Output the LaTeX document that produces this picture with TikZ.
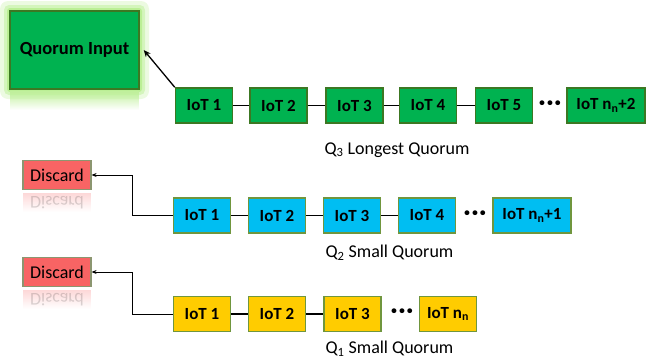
\documentclass[tikz,border=0pt]{standalone}
\usepackage{fontspec}
\setmainfont{Carlito}
\usetikzlibrary{arrows.meta,fadings}

\definecolor{iotgreen}{RGB}{0,178,80}
\definecolor{iotblue}{RGB}{0,190,242}
\definecolor{iotyellow}{RGB}{255,204,0}
\definecolor{discardred}{RGB}{248,100,100}
\definecolor{edgegreen}{RGB}{60,120,35}
\definecolor{edgeolive}{RGB}{112,150,62}
\definecolor{edgegray}{RGB}{140,150,112}
\definecolor{glowgreen}{RGB}{150,230,90}

\begin{document}
\begin{tikzpicture}[x=1pt,y=-1pt,
        iot/.style={draw=edgeolive,line width=1.5pt,minimum width=57pt,minimum height=35pt,inner sep=0pt,
            font=\fontsize{17}{19}\selectfont\bfseries},
        wide/.style={minimum width=78pt},
        discard/.style={draw=edgegray,line width=1.2pt,fill=discardred,minimum width=68pt,minimum height=29pt,
            inner sep=0pt,font=\fontsize{18}{20}\selectfont},
        more/.style={inner sep=0pt,font=\fontsize{26}{26}\selectfont\bfseries},
        link/.style={line width=1.5pt},
        quorum/.style={font=\fontsize{18}{20}\selectfont,anchor=west}]
        \useasboundingbox(0,0)rectangle(647,362);

        % glow and reflection of the input box
        \fill[glowgreen,opacity=0.18,rounded corners=8pt](0,1)rectangle(149,99);
        \fill[glowgreen,opacity=0.28,rounded corners=5pt](4,5)rectangle(145,95);
        \fill[glowgreen,opacity=0.4,rounded corners=3pt](7,8)rectangle(142,92);
        \fill[glowgreen!60,path fading=south](10,91)rectangle(139,110);
        \node[draw=edgegreen,line width=1.5pt,fill=iotgreen,minimum width=129pt,minimum height=78pt,
            font=\fontsize{18.5}{20}\selectfont\bfseries](qin)at(74.5,50){Quorum Input};

        % Q3
        \node[iot,fill=iotgreen,draw=edgegreen](g1)at(204,105.5){IoT 1};
        \node[iot,fill=iotgreen,draw=edgegreen](g2)at(278.5,105.5){IoT 2};
        \node[iot,fill=iotgreen,draw=edgegreen](g3)at(354.5,105.5){IoT 3};
        \node[iot,fill=iotgreen,draw=edgegreen](g4)at(428,105.5){IoT 4};
        \node[iot,fill=iotgreen,draw=edgegreen](g5)at(504,105.5){IoT 5};
        \node[more](gdots)at(550,105.5){·\hspace{1pt}·\hspace{1pt}·};
        \node[iot,wide,fill=iotgreen,draw=edgegreen](gn)at(606,105.5){IoT n\textsubscript{n}+2};
        \node[quorum](q3)at(321,150){Q\textsubscript{3} Longest Quorum};
        \draw[link](g1)--(g2);
        \draw[link](g2)--(g3);
        \draw[link](g3)--(g4);
        \draw[link](g4)--(g5);
        \draw[->,>={Stealth[length=7pt,width=6pt]},line width=1.3pt](g1.north west)--([xshift=4pt]qin.east);

        % Q2
        \node[discard](d2)at(57,175){Discard};
        \fill[discardred!25,path fading=south](23,193)rectangle(91,212);
        \node[yscale=-1,text opacity=0.15,font=\fontsize{18}{20}\selectfont](d2r)at(57,203){Discard};
        \node[iot,fill=iotblue](b1)at(202,215.5){IoT 1};
        \node[iot,fill=iotblue](b2)at(277,215.5){IoT 2};
        \node[iot,fill=iotblue](b3)at(352,215.5){IoT 3};
        \node[iot,fill=iotblue](b4)at(427,215.5){IoT 4};
        \node[more](bdots)at(475,215.5){·\hspace{1pt}·\hspace{1pt}·};
        \node[iot,wide,fill=iotblue](bn)at(532,215.5){IoT n\textsubscript{n}+1};
        \node[quorum](q2)at(322,253){Q\textsubscript{2} Small Quorum};
        \draw[link](b1)--(b2);
        \draw[link](b2)--(b3);
        \draw[link](b3)--(b4);
        \draw[-{Stealth[length=5pt,width=4pt]},line width=1pt](b1.west)--++(-40,0)|-(d2.east);

        % Q1
        \node[discard](d1)at(57,272){Discard};
        \fill[discardred!25,path fading=south](23,290)rectangle(91,309);
        \node[yscale=-1,text opacity=0.15,font=\fontsize{18}{20}\selectfont](d1r)at(57,300){Discard};
        \node[iot,fill=iotyellow](y1)at(202,314){IoT 1};
        \node[iot,fill=iotyellow](y2)at(277,314){IoT 2};
        \node[iot,fill=iotyellow](y3)at(352.5,314){IoT 3};
        \node[more](ydots)at(402,314){·\hspace{1pt}·\hspace{1pt}·};
        \node[iot,fill=iotyellow](yn)at(448,314){IoT n\textsubscript{n}};
        \node[quorum](q1)at(322,349){Q\textsubscript{1} Small Quorum};
        \draw[link](y1)--(y2);
        \draw[link](y2)--(y3);
        \draw[-{Stealth[length=5pt,width=4pt]},line width=1pt](y1.west)--++(-40,0)|-(d1.east);
\end{tikzpicture}
\end{document}
